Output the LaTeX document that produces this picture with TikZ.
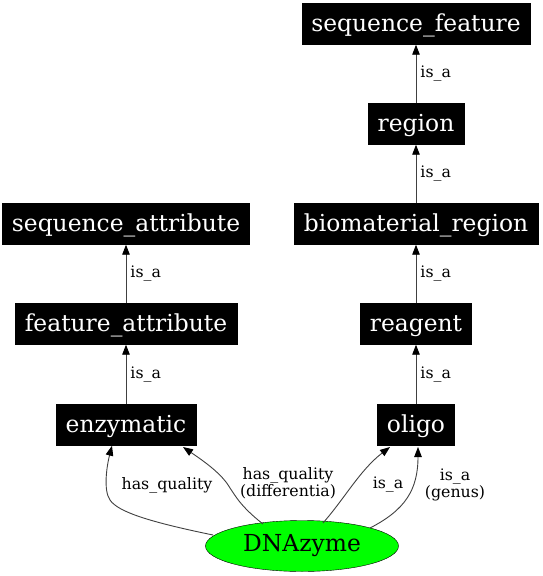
\documentclass[tikz,border=0pt]{standalone}
\usepackage{fontspec}
\setmainfont{DejaVu Serif}
\usetikzlibrary{arrows.meta,shapes.geometric}
\begin{document}
\begin{tikzpicture}[x=1pt,y=-1pt,
  term/.style={draw=black,fill=black,text=white,font=\fontsize{23.4}{25}\selectfont,minimum height=41pt,inner xsep=9.5pt,inner ysep=0pt,text height=16.5pt,text depth=1.5pt,anchor=center},
  lbl/.style={font=\fontsize{15.8}{17.5}\selectfont,align=center,inner sep=0pt},
  edge/.style={draw=black!75,line width=0.9pt,-{Triangle[length=10pt,width=7.5pt,color=black]}}]
\useasboundingbox (0,0) rectangle (542,576);
\node[term] (sf) at (416,24) {sequence\_feature};
\node[term] (region) at (416,124) {region};
\node[term] (bmr) at (416,224) {biomaterial\_region};
\node[term] (reagent) at (416,324) {reagent};
\node[term] (oligo) at (416,425) {oligo};
\node[term] (sa) at (126,224) {sequence\_attribute};
\node[term] (fa) at (126,324) {feature\_attribute};
\node[term] (enz) at (126,425) {enzymatic};
\node[ellipse,draw=black,fill=green,minimum width=193pt,minimum height=51pt,inner sep=0pt,font=\fontsize{23.4}{25}\selectfont] (dna) at (302,546) {DNAzyme};
\draw[edge] (region) -- node[lbl,right=4pt]{is\_a} (sf);
\draw[edge] (bmr) -- node[lbl,right=4pt]{is\_a} (region);
\draw[edge] (reagent) -- node[lbl,right=4pt]{is\_a} (bmr);
\draw[edge] (oligo) -- node[lbl,right=4pt]{is\_a} (reagent);
\draw[edge] (fa) -- node[lbl,right=4pt]{is\_a} (sa);
\draw[edge] (enz) -- node[lbl,right=4pt]{is\_a} (fa);
\coordinate (e1) at (213,535);
\draw[edge] (e1) .. controls (150,522) and (118,512) .. (110,500) .. controls (103,490) and (107,465) .. (enz.south -| 112,0);
\coordinate (e2) at (263,524);
\draw[edge] (e2) .. controls (240,506) and (235,495) .. (230,488) .. controls (222,474) and (205,462) .. (183,447);
\coordinate (e3) at (323,523);
\draw[edge] (e3) .. controls (345,498) and (360,470) .. (390,447);
\coordinate (e4) at (370,528);
\draw[edge] (e4) .. controls (405,510) and (418,490) .. (418,447);
\node[lbl] (l1) at (167,485) {has\_quality};
\node[lbl] (l2) at (288,483) {has\_quality\\(differentia)};
\node[lbl] (l3) at (388,485) {is\_a};
\node[lbl] (l4) at (455,485) {is\_a\\(genus)};
\end{tikzpicture}
\end{document}
